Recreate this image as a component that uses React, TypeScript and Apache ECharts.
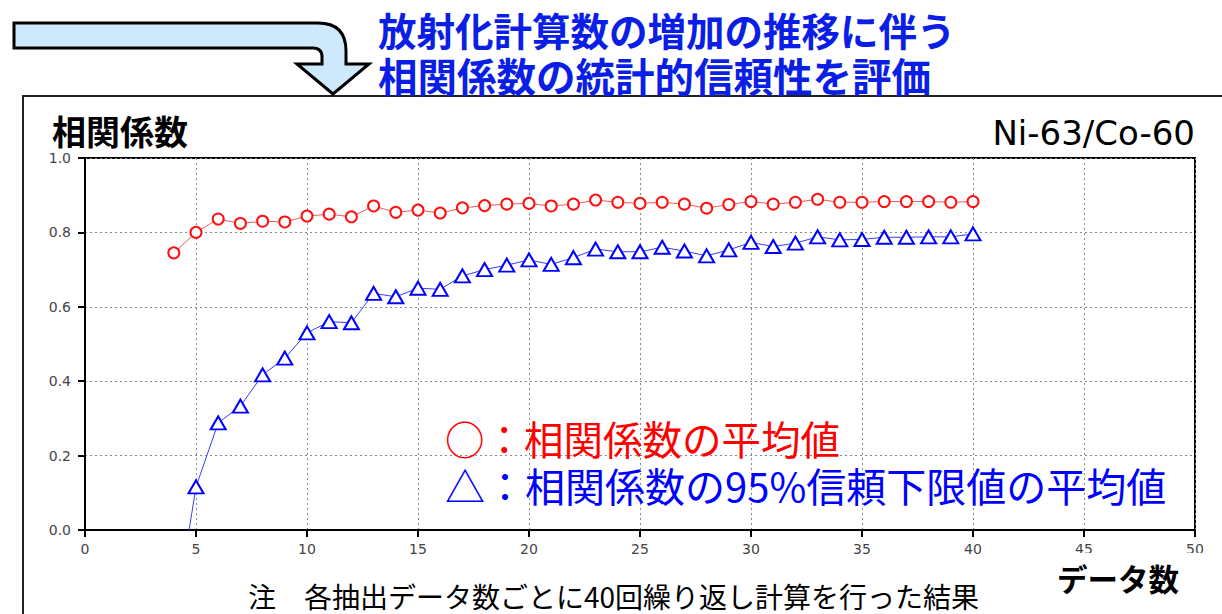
import React, { useEffect, useRef } from "react";
import * as echarts from "echarts";

const dataCounts = [4, 5, 6, 7, 8, 9, 10, 11, 12, 13, 14, 15, 16, 17, 18, 19, 20, 21, 22, 23, 24, 25, 26, 27, 28, 29, 30, 31, 32, 33, 34, 35, 36, 37, 38, 39, 40];
const meanCorr = [0.745, 0.8, 0.836, 0.824, 0.83, 0.828, 0.844, 0.849, 0.842, 0.871, 0.854, 0.86, 0.852, 0.866, 0.872, 0.876, 0.878, 0.871, 0.876, 0.887, 0.881, 0.878, 0.881, 0.876, 0.865, 0.875, 0.883, 0.876, 0.881, 0.889, 0.881, 0.881, 0.883, 0.883, 0.883, 0.881, 0.883];
const lower95Corr = [-0.258, 0.116, 0.288, 0.333, 0.417, 0.462, 0.53, 0.56, 0.557, 0.636, 0.627, 0.65, 0.647, 0.683, 0.7, 0.712, 0.726, 0.714, 0.732, 0.755, 0.748, 0.748, 0.76, 0.75, 0.737, 0.753, 0.773, 0.762, 0.771, 0.788, 0.78, 0.781, 0.787, 0.787, 0.788, 0.788, 0.796];
const xTicks = { min: 0, max: 50, interval: 5 };
const yTicks = { min: 0, max: 1, interval: 0.2 };

const titleLine1 = "放射化計算数の増加の推移に伴う";
const titleLine2 = "相関係数の統計的信頼性を評価";
const yName = "相関係数";
const xName = "データ数";
const nuclide = "Ni-63/Co-60";
const legendMean = "○：相関係数の平均値";
const legendLower = "△：相関係数の95%信頼下限値の平均値";
const note = "注　各抽出データ数ごとに40回繰り返し計算を行った結果";

const ARROW_D = "M14 23 L318 23 Q346 23 346 51 L346 64 L369 64 L333 94 L297 64 L322 64 L322 57 Q322 48 313 48 L14 48 Z";

let registered = false;

export default function App() {
  const ref = useRef<HTMLDivElement>(null);
  useEffect(() => {
    if (!registered) {
      echarts.graphic.registerShape("bigArrow", echarts.graphic.extendPath(ARROW_D, {}) as any);
      registered = true;
    }
    const chart = echarts.init(ref.current!, null, { renderer: "svg" });
    const cjk = '"Noto Sans CJK JP", sans-serif';
    const mkData = (ys: number[]) => dataCounts.map((x, i) => [x, ys[i]]);
    const splitLine = { show: true, lineStyle: { color: "#888", type: [2, 3] as any, width: 1 } };
    chart.setOption({
      animation: false,
      backgroundColor: "#fff",
      grid: { left: 85, right: 27, top: 158, bottom: 84, show: true, borderColor: "#000", borderWidth: 2, backgroundColor: "transparent" },
      xAxis: {
        type: "value",
        min: xTicks.min,
        max: xTicks.max,
        interval: xTicks.interval,
        axisLine: { show: true, onZero: false, lineStyle: { color: "#000", width: 2 } },
        axisTick: { show: true, length: 7, lineStyle: { color: "#000", width: 2 } },
        axisLabel: { color: "#444", fontSize: 14, margin: 12, fontFamily: "DejaVu Sans" },
        splitLine,
      },
      yAxis: {
        type: "value",
        min: yTicks.min,
        max: yTicks.max,
        interval: yTicks.interval,
        axisLine: { show: true, lineStyle: { color: "#000", width: 2 } },
        axisTick: { show: true, length: 7, lineStyle: { color: "#000", width: 2 } },
        axisLabel: { color: "#444", fontSize: 14, margin: 14, fontFamily: "DejaVu Sans", formatter: (v: number) => v.toFixed(1) },
        splitLine,
      },
      series: [
        {
          type: "line",
          data: mkData(meanCorr),
          symbol: "emptyCircle",
          symbolSize: 11,
          clip: true,
          lineStyle: { color: "#f25a5a", width: 1 },
          itemStyle: { color: "#ff1010", borderWidth: 2 },
          z: 3,
        },
        {
          type: "line",
          data: mkData(lower95Corr),
          symbol: "emptyTriangle",
          symbolSize: [15, 13],
          clip: true,
          lineStyle: { color: "#3a3aff", width: 1 },
          itemStyle: { color: "#0000ff", borderWidth: 2 },
          z: 3,
        },
      ],
      graphic: [
        { type: "rect", shape: { x: 23, y: 96, width: 1220, height: 540 }, style: { fill: "none", stroke: "#222", lineWidth: 2 }, z: 1 },
        { type: "bigArrow", x: 0, y: 0, style: { fill: "#cde9fb", stroke: "#000", lineWidth: 3 }, z: 10 },
        { type: "text", x: 378, y: 29, style: { text: titleLine1, fill: "#0a1ee6", font: `bold 38.5px ${cjk}`, textAlign: "left", textVerticalAlign: "middle" }, z: 10 },
        { type: "text", x: 378, y: 74, style: { text: titleLine2, fill: "#0a1ee6", font: `bold 39.5px ${cjk}`, textAlign: "left", textVerticalAlign: "middle" }, z: 10 },
        { type: "text", x: 52, y: 130, style: { text: yName, fill: "#000", font: `bold 34px ${cjk}`, textAlign: "left", textVerticalAlign: "middle" }, z: 10 },
        { type: "text", x: 1195, y: 133, style: { text: nuclide, fill: "#000", font: `34px "DejaVu Sans", sans-serif`, textAlign: "right", textVerticalAlign: "middle" }, z: 10 },
        { type: "text", x: 445, y: 437, style: { text: legendMean, fill: "#ff0000", font: `39.5px ${cjk}`, textAlign: "left", textVerticalAlign: "middle" }, z: 10 },
        { type: "text", x: 445, y: 485, style: { text: legendLower, fill: "#0000ff", font: `40px ${cjk}`, textAlign: "left", textVerticalAlign: "middle" }, z: 10 },
        { type: "rect", shape: { x: 1000, y: 553, width: 230, height: 70 }, style: { fill: "#fff" }, z: 20 },
        { type: "text", x: 1057, y: 578, style: { text: xName, fill: "#000", font: `bold 30.5px ${cjk}`, textAlign: "left", textVerticalAlign: "middle" }, z: 21 },
        { type: "text", x: 248, y: 596, style: { text: note, fill: "#000", font: `28px ${cjk}`, textAlign: "left", textVerticalAlign: "middle" }, z: 10 },
      ],
    });
    return () => chart.dispose();
  }, []);
  return <div ref={ref} style={{ position: "fixed", left: 0, top: 0, width: 1222, height: 614 }} />;
}
